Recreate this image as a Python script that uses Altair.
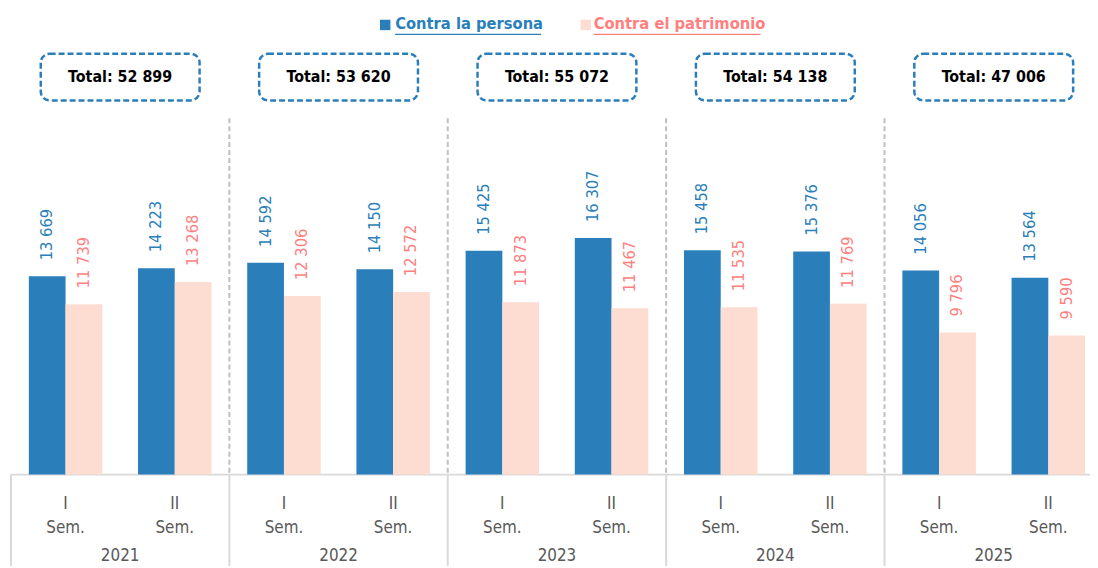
import altair as alt
import pandas as pd

years = ["2021", "2022", "2023", "2024", "2025"]
semesters = ["I", "II"]
series = ["Contra la persona", "Contra el patrimonio"]
persona = [13669, 14223, 14592, 14150, 15425, 16307, 15458, 15376, 14056, 13564]
patrimonio = [11739, 13268, 12306, 12572, 11873, 11467, 11535, 11769, 9796, 9590]
totals = [52899, 53620, 55072, 54138, 47006]

bar_colors = ["#2A7FBB", "#FDDCD2"]
label_colors = ["#2A7FBB", "#FF7F7F"]
FONT = "'DejaVu Sans Condensed', 'Liberation Sans', sans-serif"


def fmt(v):
    return f"{v:,}".replace(",", " ")


cats = [f"{y}-{s}" for y in years for s in semesters]
rows = []
for i, c in enumerate(cats):
    yr, sm = c.split("-")
    for name, vals in zip(series, [persona, patrimonio]):
        rows.append(dict(cat=c, year=yr, sem=sm, serie=name, value=vals[i], label=fmt(vals[i])))
df = pd.DataFrame(rows)
cat_df = pd.DataFrame({"cat": cats, "sem": [c.split("-")[1] for c in cats]})
year_df = pd.DataFrame({
    "year": years,
    "yi": list(range(len(years))),
    "total": [f"Total: {fmt(t)}" for t in totals],
})
one = pd.DataFrame({"k": [0]})

W = 1087          # visible plot width (the chart is cut at the right edge)
YEAR_STEP = 220   # pixels per year group
x_cat = alt.X("cat:N", sort=cats, axis=None,
              scale=alt.Scale(paddingInner=0.3273, paddingOuter=0.1045, align=0.7826))
x_off = alt.XOffset("serie:N", sort=series, scale=alt.Scale(paddingInner=0, paddingOuter=0))
y_val = alt.Y("value:Q", axis=None, scale=alt.Scale(domain=[0, 32000]))

bars = alt.Chart(df).mark_bar().encode(
    x=x_cat, xOffset=x_off, y=y_val,
    color=alt.Color("serie:N", scale=alt.Scale(domain=series, range=bar_colors), legend=None),
)
labels = alt.Chart(df).mark_text(
    angle=270, align="left", baseline="middle", dx=16, font=FONT, fontSize=16.5
).encode(
    x=x_cat, xOffset=x_off, y=y_val, text="label:N",
    color=alt.Color("serie:N", scale=alt.Scale(domain=series, range=label_colors), legend=None),
)
sem_lbl = alt.Chart(cat_df).mark_text(font=FONT, fontSize=17, color="#595959", baseline="middle").encode(
    x=x_cat, y=alt.value(498), text="sem:N")
sem_txt = alt.Chart(cat_df).mark_text(font=FONT, fontSize=17, color="#595959", baseline="middle").encode(
    x=x_cat, y=alt.value(522), text=alt.value("Sem."))

bar_layer = alt.layer(bars, labels, sem_lbl, sem_txt).resolve_scale(color="independent")

year_scale = alt.Scale(domain=[0, W / YEAR_STEP], nice=False, zero=False, padding=0)
x_year_start = alt.X("yi:Q", axis=None, scale=year_scale)
x_year_mid = alt.X("yc:Q", axis=None, scale=year_scale)

ybase = alt.Chart(year_df).transform_calculate(yc="datum.yi + 0.5")
dashed = ybase.transform_filter(alt.datum.yi > 0).mark_rule(
    color="#BFBFBF", strokeDash=[5, 3], strokeWidth=2
).encode(x=x_year_start, y=alt.value(109), y2=alt.value(468))
solid = ybase.mark_rule(color="#D9D9D9", strokeWidth=2).encode(
    x=x_year_start, y=alt.value(468), y2=alt.value(560))
boxes = ybase.mark_bar(
    orient="vertical", width=160, fill="white", stroke="#2A7FBB", strokeDash=[6, 3],
    strokeWidth=2.5, cornerRadius=9
).encode(x=x_year_mid, y=alt.value(44), y2=alt.value(91))
box_txt = ybase.mark_text(
    font=FONT, fontSize=16, fontWeight="bold", color="black", baseline="middle"
).encode(x=x_year_mid, y=alt.value(67), text="total:N")
year_txt = ybase.mark_text(font=FONT, fontSize=17, color="#595959", baseline="middle").encode(
    x=x_year_mid, y=alt.value(550), text="year:N")

year_layer = alt.layer(dashed, solid, boxes, box_txt, year_txt)

baseline = alt.Chart(one).mark_rule(color="#D9D9D9", strokeWidth=2).encode(
    x=alt.value(0), x2=alt.value(W), y=alt.value(468))

# legend
leg = []
leg_pos = [(377, 387, 534), (579, 587, 755)]
for name, col, tcol, (sx, tx, ux) in zip(series, bar_colors, label_colors, leg_pos):
    leg.append(alt.Chart(one).mark_square(size=110, color=col, opacity=1).encode(
        x=alt.value(sx), y=alt.value(15)))
    leg.append(alt.Chart(one).mark_text(
        font=FONT, fontSize=16.5, fontWeight="bold", color=tcol, align="left", baseline="middle"
    ).encode(x=alt.value(tx), y=alt.value(14), text=alt.value(name)))
    leg.append(alt.Chart(one).mark_rule(color=tcol, strokeWidth=1.5).encode(
        x=alt.value(tx), x2=alt.value(ux), y=alt.value(24.5)))

chart = alt.layer(baseline, year_layer, bar_layer, *leg).resolve_scale(
    x="independent", color="independent"
).properties(
    width=W, height=468,
    autosize=alt.AutoSizeParams(type="none"),
    padding={"left": 3, "top": 0, "right": 0, "bottom": 92},
    background="white",
).configure_view(stroke=None)

chart.save("out.html", embed_options={"renderer": "svg", "actions": False})
